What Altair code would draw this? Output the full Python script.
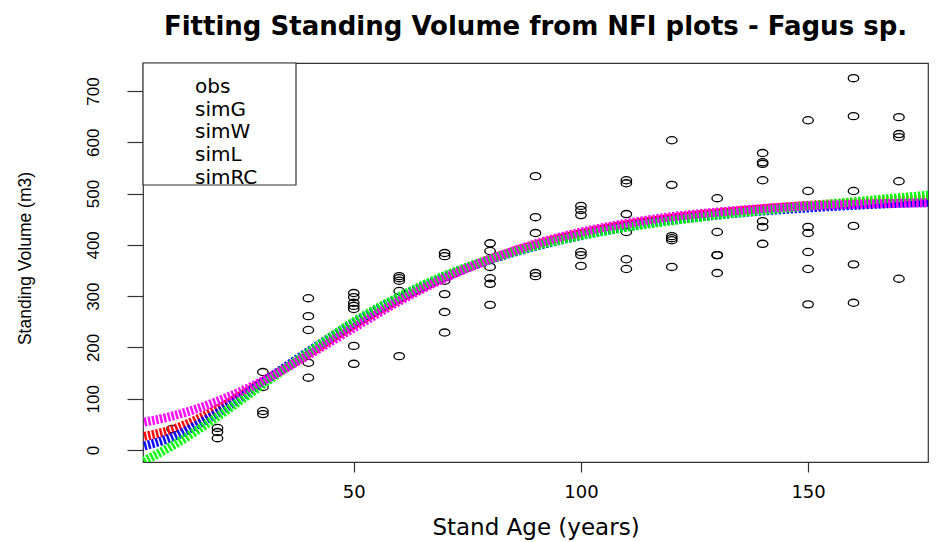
import altair as alt
import pandas as pd

# ---- observed NFI plots (age, volume) ----
obs_age = [10,
           20, 20, 20,
           30, 30, 30, 30,
           40, 40, 40, 40, 40,
           50, 50, 50, 50, 50, 50, 50,
           60, 60, 60, 60, 60,
           70, 70, 70, 70, 70, 70,
           80, 80, 80, 80, 80, 80,
           90, 90, 90, 90, 90,
           100, 100, 100, 100, 100, 100,
           110, 110, 110, 110, 110, 110,
           120, 120, 120, 120, 120, 120,
           130, 130, 130, 130, 130,
           140, 140, 140, 140, 140, 140, 140,
           150, 150, 150, 150, 150, 150, 150,
           160, 160, 160, 160, 160, 160,
           170, 170, 170, 170, 170]
obs_vol = [41,
           43, 35, 23,
           152, 123, 76, 70,
           296, 261, 234, 170, 141,
           306, 298, 287, 281, 275, 203, 168,
           339, 335, 330, 310, 183,
           384, 378, 330, 304, 269, 229,
           403, 388, 357, 335, 324, 283,
           534, 454, 423, 345, 339,
           476, 468, 458, 386, 380, 359,
           526, 520, 460, 425, 372, 353,
           604, 517, 417, 413, 409, 357,
           491, 425, 380, 345, 380,
           579, 561, 558, 526, 446, 435, 402,
           643, 505, 435, 423, 386, 353, 284,
           725, 651, 505, 437, 362, 287,
           649, 616, 610, 524, 334]

# ---- fitted curves ----
curve_age = [3, 10, 20, 30, 40, 50, 60, 70, 80, 90, 100, 110, 120, 130, 140, 150, 160, 170, 177]
simG  = [25, 40, 80, 133, 188, 244, 294, 337, 372, 400, 422, 439, 452, 462, 470, 477, 482, 487, 489]
simW  = [6, 25, 72, 132, 192, 248, 297, 338, 371, 397, 418, 435, 448, 458, 466, 472, 477, 481, 483]
simL  = [-25, 8, 65, 128, 190, 250, 299, 340, 372, 398, 418, 434, 447, 458, 467, 476, 484, 492, 497]
simRC = [53, 66, 95, 135, 185, 238, 290, 335, 372, 402, 425, 442, 455, 464, 471, 476, 479, 481, 482]

legend_names = ["obs", "simG", "simW", "simL", "simRC"]
legend_colors = ["#000000", "#FF0000", "#0000FF", "#00FF00", "#FF00FF"]

x_ticks = [50, 100, 150]
y_ticks = [0, 100, 200, 300, 400, 500, 600, 700]

obs_df = pd.DataFrame({"age": obs_age, "vol": obs_vol, "series": "obs"})
curves = {"simG": simG, "simW": simW, "simL": simL, "simRC": simRC}
curve_df = pd.concat(
    [pd.DataFrame({"age": curve_age, "vol": v, "series": k}) for k, v in curves.items()],
    ignore_index=True)

xscale = alt.Scale(domain=[3.6, 176.4], nice=False, zero=False)
yscale = alt.Scale(domain=[-23.4, 754.6], nice=False, zero=False)
cscale = alt.Scale(domain=legend_names, range=legend_colors)

X = alt.X("age:Q", scale=xscale,
          axis=alt.Axis(title="Stand Age (years)", values=x_ticks, titleY=65,
                        titleBaseline="middle"))
Y = alt.Y("vol:Q", scale=yscale,
          axis=alt.Axis(title="Standing Volume (m3)", values=y_ticks, labelAngle=270,
                        labelAlign="center", labelBaseline="middle", labelPadding=34,
                        tickSize=16, titleX=-118, titleY=195, titleBaseline="middle",
                        titleAlign="center", titleFont="Liberation Sans",
                        titleFontSize=17.5, labelFont="Liberation Sans", labelFontSize=17))

ellipse = "M-1,0 A1,0.68 0 1,0 1,0 A1,0.68 0 1,0 -1,0 Z"

legend_box = alt.Chart(pd.DataFrame({"a": [0]})).mark_rect(
    fill="white", stroke="#333333", strokeWidth=1.2).encode(
    x=alt.value(0), x2=alt.value(153), y=alt.value(0), y2=alt.value(122))

points = alt.Chart(obs_df).mark_point(
    shape=ellipse, filled=False, size=110, strokeWidth=1.3, opacity=1).encode(
    x=X, y=Y,
    color=alt.Color("series:N", scale=cscale,
                    legend=alt.Legend(title=None, orient="none", legendX=0, legendY=14,
                                      symbolOpacity=0, symbolSize=1, labelOffset=32,
                                      labelFont="DejaVu Sans", labelFontSize=20,
                                      labelColor="black", rowPadding=2.7, padding=0,
                                      values=legend_names)))

lines = []
for k in ["simG", "simW", "simL", "simRC"]:
    lines.append(
        alt.Chart(curve_df[curve_df.series == k]).mark_line(
            strokeWidth=9, strokeDash=[2.5, 1.5], interpolate="monotone", clip=True,
            opacity=0.95).encode(x=X, y=Y, color=alt.Color("series:N", scale=cscale)))

chart = alt.layer(legend_box, points, *lines).properties(
    width=785, height=399,
    autosize=alt.AutoSizeParams(type="none"),
    padding={"left": 135, "top": 55, "right": 15, "bottom": 78},
    title=alt.TitleParams("Fitting Standing Volume from NFI plots - Fagus sp.",
                          font="DejaVu Sans", fontWeight="bold", fontSize=26,
                          anchor="middle", offset=22, color="black"),
).configure_view(stroke="#333333", strokeWidth=1.2).configure_axis(
    grid=False, domain=False, tickColor="#333333", tickWidth=1.2, labelColor="black",
    titleColor="black", titleFontWeight="normal",
).configure_axisX(
    tickSize=10, labelFont="DejaVu Sans", labelFontSize=18, labelBaseline="middle",
    labelPadding=20, titleFont="DejaVu Sans", titleFontSize=23)

chart.save("out.html", embed_options={"renderer": "svg", "actions": False})
